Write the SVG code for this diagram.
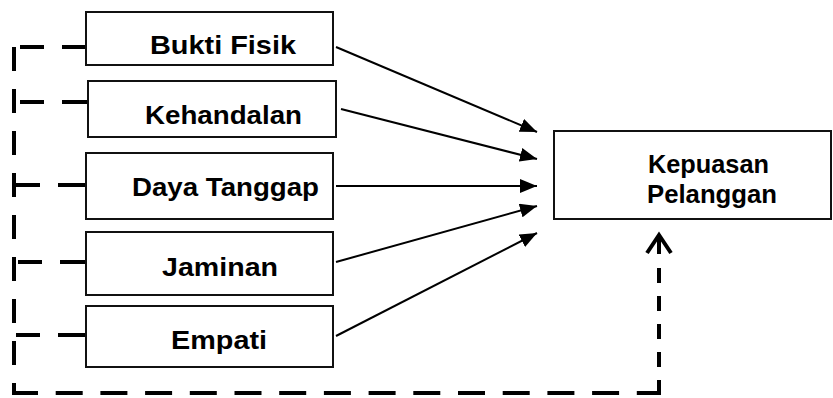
<svg xmlns="http://www.w3.org/2000/svg" width="833" height="398" viewBox="0 0 833 398">
<style>
.box{fill:#fff;stroke:#111;stroke-width:2}
.lbl{font-family:"Liberation Sans",Arial,sans-serif;font-weight:bold;font-size:25px;fill:#000}
.arr{stroke:#000;stroke-width:2;fill:none;marker-end:url(#ah)}
.dash{stroke:#000;stroke-width:4;fill:none}
</style>
<defs>
<marker id="ah" markerUnits="userSpaceOnUse" markerWidth="18" markerHeight="14" refX="17" refY="7" orient="auto">
<path d="M0,0 L17,7 L0,14 Z" fill="#000"/>
</marker>
</defs>
<rect width="833" height="398" fill="#fff"/>
<g id="connectors">
<line class="arr" x1="336" y1="47" x2="537" y2="132"/>
<line class="arr" x1="341" y1="109" x2="537" y2="159"/>
<line class="arr" x1="336" y1="186" x2="537" y2="186"/>
<line class="arr" x1="336" y1="262" x2="537" y2="206"/>
<line class="arr" x1="336" y1="336" x2="537" y2="233"/>
<line class="dash" x1="14" y1="47" x2="14" y2="395" stroke-dasharray="24 18"/>
<line class="dash" x1="12" y1="393" x2="661" y2="393" stroke-dasharray="27 17.7" stroke-dashoffset="1"/>
<line class="dash" x1="659" y1="395" x2="659" y2="268" stroke-dasharray="15 13"/>
<path class="dash" d="M647,253 L659,235 L671,253 M659,235 L659,254"/>
<path class="dash" d="M20,47 H44 M62,47 H86"/>
<path class="dash" d="M20,102 H44 M62,102 H88"/>
<path class="dash" d="M14,185 H40 M58,185 H86"/>
<path class="dash" d="M18,262 H42 M60,262 H86"/>
<path class="dash" d="M16,335 H40 M58,335 H86"/>
</g>
<g id="bukti-fisik">
<rect class="box" x="86" y="12" width="247" height="53"/>
<text class="lbl" x="150" y="54" textLength="146" lengthAdjust="spacingAndGlyphs">Bukti Fisik</text>
</g>
<g id="kehandalan">
<rect class="box" x="88" y="81" width="248" height="56"/>
<text class="lbl" x="145" y="124" textLength="157" lengthAdjust="spacingAndGlyphs">Kehandalan</text>
</g>
<g id="daya-tanggap">
<rect class="box" x="86" y="153" width="247" height="66"/>
<text class="lbl" x="132" y="196" textLength="187" lengthAdjust="spacingAndGlyphs">Daya Tanggap</text>
</g>
<g id="jaminan">
<rect class="box" x="86" y="232" width="247" height="63"/>
<text class="lbl" x="162" y="276" textLength="116" lengthAdjust="spacingAndGlyphs">Jaminan</text>
</g>
<g id="empati">
<rect class="box" x="86" y="306" width="247" height="61"/>
<text class="lbl" x="171" y="349" textLength="96" lengthAdjust="spacingAndGlyphs">Empati</text>
</g>
<g id="kepuasan-pelanggan">
<rect class="box" x="554" y="131" width="277" height="88"/>
<text class="lbl" x="648" y="173" textLength="121" lengthAdjust="spacingAndGlyphs">Kepuasan</text>
<text class="lbl" x="647" y="203" textLength="130" lengthAdjust="spacingAndGlyphs">Pelanggan</text>
</g>
</svg>
